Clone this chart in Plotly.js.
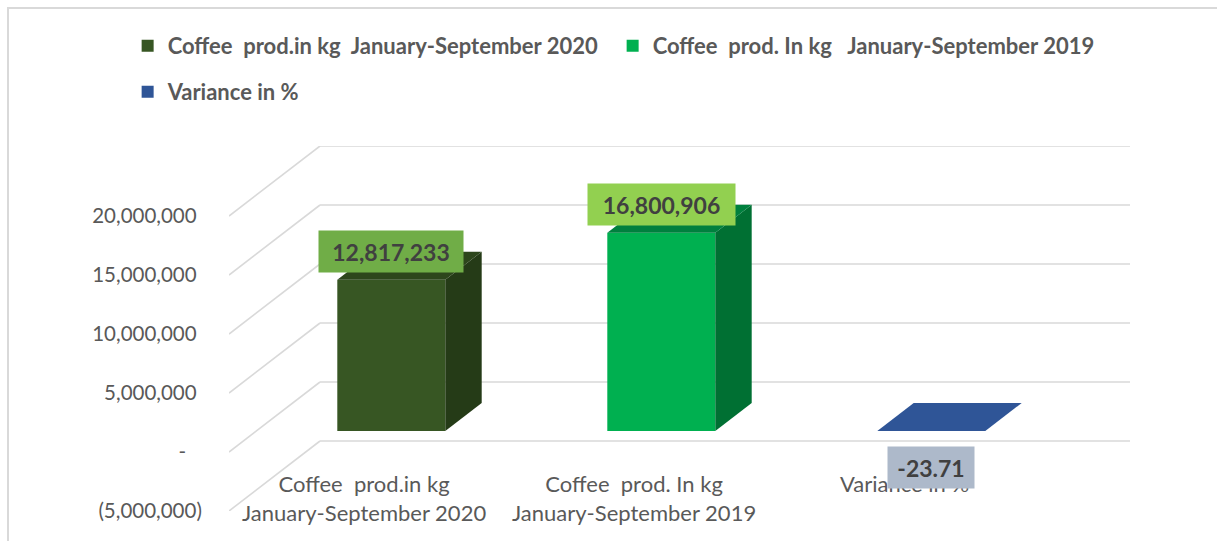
<!DOCTYPE html>
<html>
<head>
<meta charset="utf-8">
<script src="https://cdn.plot.ly/plotly-3.0.1.min.js"></script>
<style>
  html, body { margin: 0; padding: 0; background: #ffffff; }
  #wrap { position: relative; width: 1217px; height: 541px; overflow: hidden; }
  #chart { position: absolute; left: 0; top: 0; width: 1217px; height: 541px; }
  #frame { position: absolute; left: 7px; top: 7px; width: 1300px; height: 700px;
           border-left: 2px solid #d9d9d9; border-top: 2px solid #d9d9d9; pointer-events: none; }
</style>
</head>
<body>
<div id="wrap"><div id="chart"></div><div id="frame"></div></div>
<script>
// ---- data ----
const categories = ["Coffee  prod.in kg<br>January-September 2020", "Coffee  prod. In kg<br>January-September 2019", "Variance in %"];
const seriesNames = ["Coffee  prod.in kg  January-September 2020", "Coffee  prod. In kg   January-September 2019", "Variance in %"];
const values = [12817233, 16800906, -23.71];
const tickValues = [-5000000, 0, 5000000, 10000000, 15000000, 20000000];

// ---- style ----
const frontColors = ["#375623", "#00B050", "#2F5597"];
const sideColors  = ["#253b17", "#007033", "#24457a"];
const topColors   = ["#2d461c", "#00803e", "#2F5597"];
const labelBoxColors = ["#70AD47", "#92D050", "#ADB9CA"];
const labelBoxWidths = [144, 147, 86];
const FONT = "Lato, 'Open Sans', sans-serif";
const TXT = "#595959";

// oblique projection geometry (depth offsets)
const DY = 70 * 5000000 / 59;   // full depth vertical shift, in value units
const DX = 91 / 270;            // full depth horizontal shift, in category units
const FRONT = 0.3, BACK = 0.7, BW = 0.4;

const nb = s => s.replace(/ /g, "\u00a0");
const fmtTick = v => v === 0 ? "-\u00a0\u00a0\u00a0" : (v < 0 ? "(" + Math.abs(v).toLocaleString("en-US") + ")" : v.toLocaleString("en-US") + "\u00a0");
const fmtVal = v => Number.isInteger(v) ? v.toLocaleString("en-US") : v.toFixed(2);

const traces = [];
const shapes = [];
const annotations = [];

// back wall + side grid lines (below everything)
const xMin = -0.5, xMax = categories.length - 0.5;
tickValues.forEach(t => {
  shapes.push({type: "line", layer: "below", xref: "x", yref: "y",
    x0: xMin, y0: t, x1: xMin + DX, y1: t + DY, line: {color: "#d9d9d9", width: 1.6}});
  shapes.push({type: "line", layer: "below", xref: "x", yref: "y",
    x0: xMin + DX, y0: t + DY, x1: xMax + DX, y1: t + DY, line: {color: "#d9d9d9", width: 1.6}});
});

values.forEach((v, i) => {
  const xc = i + FRONT * DX;
  const b0 = FRONT * DY;
  const xl = xc - BW / 2, xr = xc + BW / 2;
  const top = b0 + v;
  const d = (BACK - FRONT);
  // front face (real bar)
  traces.push({
    type: "bar", name: nb(seriesNames[i]), x: [xc], y: [v], base: [b0], width: [BW],
    marker: {color: frontColors[i], line: {width: 0}},
    legend: i < 2 ? "legend" : "legend2", hoverinfo: "name+y"
  });
  // side face
  traces.push({
    type: "scatter", mode: "lines", fill: "toself", fillcolor: sideColors[i],
    x: [xr, xr + d * DX, xr + d * DX, xr, xr],
    y: [b0, b0 + d * DY, top + d * DY, top, b0],
    line: {width: 0, color: sideColors[i]}, showlegend: false, hoverinfo: "skip"
  });
  // top face
  traces.push({
    type: "scatter", mode: "lines", fill: "toself", fillcolor: topColors[i],
    x: [xl, xr, xr + d * DX, xl + d * DX, xl],
    y: [top, top, top + d * DY, top + d * DY, top],
    line: {width: 0, color: topColors[i]}, showlegend: false, hoverinfo: "skip"
  });
});

// category labels
categories.forEach((c, i) => {
  annotations.push({xref: "x", yref: "paper", x: i, y: 0.118, xanchor: "center", yanchor: "top",
    text: nb(c), showarrow: false, font: {family: FONT, size: 22, color: TXT}});
});
// data labels
values.forEach((v, i) => {
  const xc = i + FRONT * DX;
  annotations.push({xref: "x", yref: "y", x: xc, y: v >= 0 ? FRONT * DY + v + (BACK - FRONT) * DY : FRONT * DY,
    yshift: v >= 0 ? 0 : -36, xanchor: "center", yanchor: "middle",
    text: "<b>" + fmtVal(v) + "</b>", showarrow: false, bgcolor: labelBoxColors[i],
    width: labelBoxWidths[i], height: 41, borderpad: 0,
    font: {family: FONT, size: 23, color: "#404040"}});
});

const layout = {
  width: 1217, height: 541, autosize: false,
  margin: {l: 229, r: 87, t: 146, b: 30},
  paper_bgcolor: "#ffffff", plot_bgcolor: "rgba(0,0,0,0)",
  barmode: "overlay",
  font: {family: FONT, color: TXT},
  xaxis: {range: [xMin, xMax + DX], showgrid: false, zeroline: false, showline: false,
          showticklabels: false, ticks: "", fixedrange: true},
  yaxis: {range: [-5000000, 20000000 + DY], showgrid: false, zeroline: false, showline: false,
          tickmode: "array", tickvals: tickValues, ticktext: tickValues.map(fmtTick),
          ticks: "outside", ticklen: 22, tickcolor: "rgba(0,0,0,0)",
          tickfont: {family: FONT, size: 20.5, color: TXT}, fixedrange: true},
  showlegend: true,
  legend: {orientation: "h", x: -0.1125, xanchor: "left", y: 1.274, yanchor: "middle",
           entrywidth: 440, entrywidthmode: "pixels", bgcolor: "rgba(0,0,0,0)",
           font: {family: FONT, size: 22, color: TXT, weight: "bold"}, traceorder: "normal"},
  legend2: {orientation: "h", x: -0.1125, xanchor: "left", y: 1.148, yanchor: "middle",
           bgcolor: "rgba(0,0,0,0)",
           font: {family: FONT, size: 22, color: TXT, weight: "bold"}},
  shapes: shapes,
  annotations: annotations
};

Plotly.newPlot("chart", traces, layout, {displayModeBar: false, staticPlot: true});
</script>
</body>
</html>
